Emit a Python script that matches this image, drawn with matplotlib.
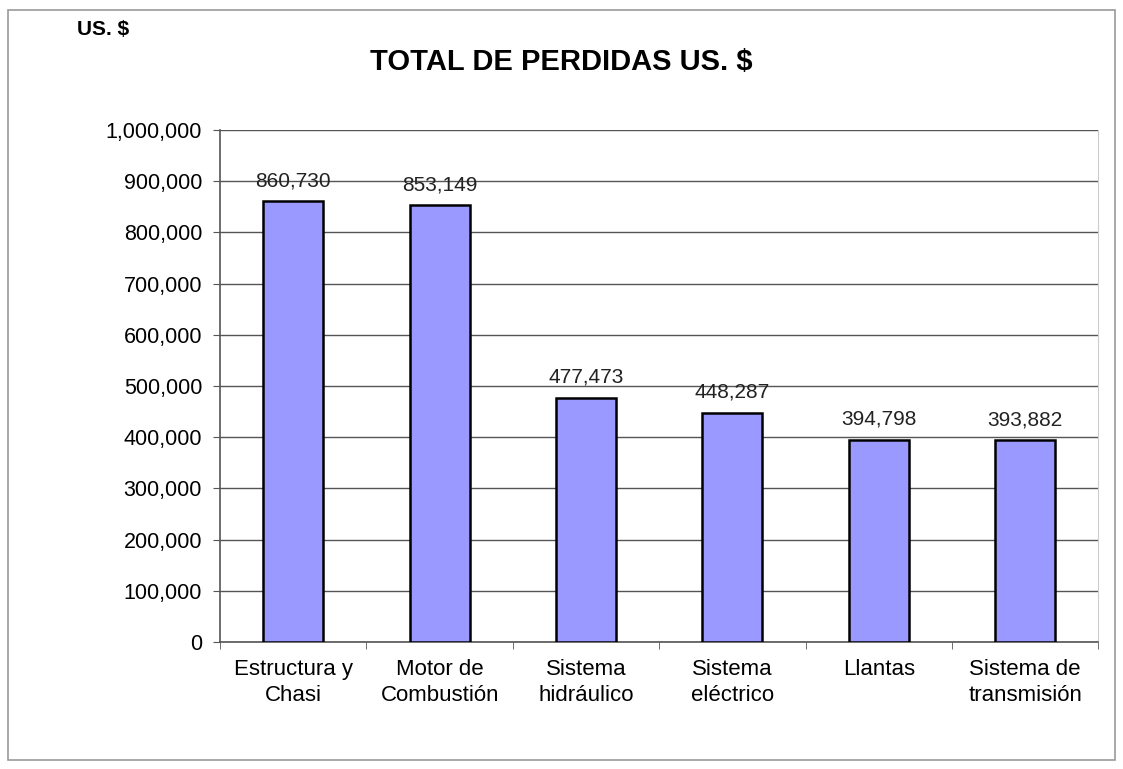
import matplotlib
matplotlib.use("Agg")
import matplotlib.pyplot as plt
from matplotlib.patches import Rectangle
from matplotlib.ticker import FuncFormatter, FixedLocator
import numpy as np

plt.rcParams.update({"font.family": ["Liberation Sans", "DejaVu Sans"]})

categories = ["Estructura y\nChasi", "Motor de\nCombustión", "Sistema\nhidráulico",
              "Sistema\neléctrico", "Llantas", "Sistema de\ntransmisión"]
values = [860730, 853149, 477473, 448287, 394798, 393882]
yticks = [0, 100000, 200000, 300000, 400000, 500000, 600000, 700000, 800000,
          900000, 1000000]

BAR = "#9999FF"
GRID = "#555555"

fig = plt.figure(figsize=(11.23, 7.69), dpi=100)
ax = fig.add_axes([0.196, 0.165, 0.782, 0.666])

x = np.arange(len(categories))
ax.bar(x, values, width=0.41, color=BAR, edgecolor="black", linewidth=1.8,
       zorder=3)
for xi, v in zip(x, values):
    ax.annotate(f"{v:,}", (xi, v), xytext=(0, 8), textcoords="offset points",
                ha="center", va="bottom", fontsize=15, color="#222222")

ax.set_xlim(-0.5, len(categories) - 0.5)
ax.set_ylim(0, 1000000)
ax.yaxis.set_major_locator(FixedLocator(yticks))
ax.yaxis.set_major_formatter(FuncFormatter(lambda v, p: f"{int(v):,}"))
ax.grid(axis="y", color=GRID, linewidth=1.0, zorder=0)

ax.set_xticks(x)
ax.set_xticklabels(categories, fontsize=16, linespacing=1.3)
ax.xaxis.set_minor_locator(FixedLocator(np.arange(-0.5, len(categories), 1.0)))
ax.tick_params(axis="x", which="major", length=0, pad=12)
ax.tick_params(axis="x", which="minor", length=5, color="#555555", direction="out")
ax.tick_params(axis="y", labelsize=15.5, length=5, color="#555555", pad=8)

for s in ["left", "bottom"]:
    ax.spines[s].set_color("#555555")
    ax.spines[s].set_linewidth(1.2)
ax.spines["top"].set_visible(False)
ax.spines["right"].set_color("#cccccc")

fig.text(0.5, 0.919, "TOTAL DE PERDIDAS US. $", ha="center", va="center",
         fontsize=21, fontweight="bold")
fig.text(0.069, 0.962, "US. $", ha="left", va="center", fontsize=15,
         fontweight="bold")

fig.patches.append(Rectangle((0.007, 0.012), 0.986, 0.975,
                             transform=fig.transFigure, fill=False,
                             edgecolor="#999999", linewidth=1.2))

fig.savefig("out.png", dpi=100, facecolor="white")
